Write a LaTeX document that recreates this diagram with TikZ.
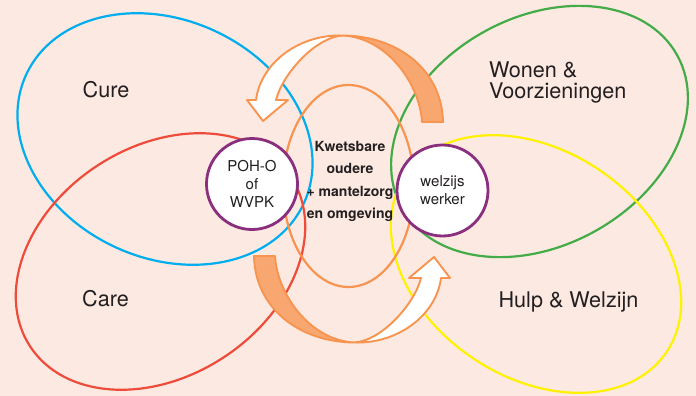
\documentclass[tikz,border=0pt]{standalone}
\usepackage{fontspec}
\setmainfont{TeX Gyre Heros}
\definecolor{bg}{HTML}{FCE9E1}
\definecolor{cblue}{HTML}{00AEEF}
\definecolor{cred}{HTML}{EE4B3A}
\definecolor{cgreen}{HTML}{43AC48}
\definecolor{cyellow}{HTML}{FFF200}
\definecolor{corange}{HTML}{F7944F}
\definecolor{cfill}{HTML}{F9A771}
\definecolor{cpurple}{HTML}{8A2E7E}
\definecolor{ctext}{HTML}{231F20}
\newcommand\twistarrow{%
  \path[arrowline, fill=cfill] (443,-122) .. controls (442,-70) and (398,-36) .. (343,-35.5)
     .. controls (388,-38) and (420,-85) .. (422,-122) -- cycle;
  \path[arrowline, fill=white] (343,-35.5) .. controls (300,-34) and (261,-62) .. (256,-100)
     -- (247,-100) -- (263,-121) -- (288,-100) -- (276,-100)
     .. controls (282,-75) and (315,-37) .. (343,-35.5) -- cycle;
}
\begin{document}
\begin{tikzpicture}[x=1pt,y=1pt,
  ringline/.style={line width=2.2pt},
  arrowline/.style={draw=corange, line width=1.9pt, line join=round},
  actor/.style={circle, draw=cpurple, line width=2.8pt, fill=white, minimum size=91pt,
    inner sep=0pt, align=center, text=ctext, font=\fontsize{15}{18}\selectfont},
  domainlabel/.style={text=ctext, inner sep=0pt, font=\fontsize{21.6}{21}\selectfont},
  corelabel/.style={text=ctext, inner sep=0pt, align=center, font=\bfseries\fontsize{14}{22.5}\selectfont},
]
\fill[bg] (0,0) rectangle (696,-396);
\useasboundingbox (0,0) rectangle (696,-396);

% domain ellipses
\draw[ringline, cblue, rotate around={-25:(165,-139)}] (165,-139) ellipse [x radius=153, y radius=119];
\draw[ringline, cred, rotate around={33:(160.5,-261.5)}] (160.5,-261.5) ellipse [x radius=155.6, y radius=114.8];
\draw[ringline, cgreen, rotate around={29:(539.5,-131.5)}] (539.5,-131.5) ellipse [x radius=157.4, y radius=114.1];
\draw[ringline, cyellow, rotate around={-34:(536,-264)}] (536,-264) ellipse [x radius=157.5, y radius=113.4];

% central ellipse
\draw[ringline, corange] (348.5,-186) ellipse [x radius=65.5, y radius=101];

% twisted arrows
\twistarrow
\begin{scope}[rotate around={180:(348.5,-189)}]
  \twistarrow
\end{scope}

% actors
\node[actor] (poh) at (252,-184) {POH-O\\of\\WVPK};
\node[actor] (welzijn) at (442.5,-190.5) {welzijs\\werker};

% labels
\node[corelabel, anchor=north] (kern) at (350,-140.8) {Kwetsbare\\oudere\\+ mantelzorg\\en omgeving};
\node[domainlabel, anchor=base] (cure) at (106,-97.7) {Cure};
\node[domainlabel, anchor=base] (care) at (105.5,-306.7) {Care};
\node[domainlabel, align=left, anchor=north west] (wonen) at (489,-61.5) {Wonen \&\\Voorzieningen};
\node[domainlabel, anchor=base] (hulp) at (568.5,-307) {Hulp \& Welzijn};
\end{tikzpicture}
\end{document}
